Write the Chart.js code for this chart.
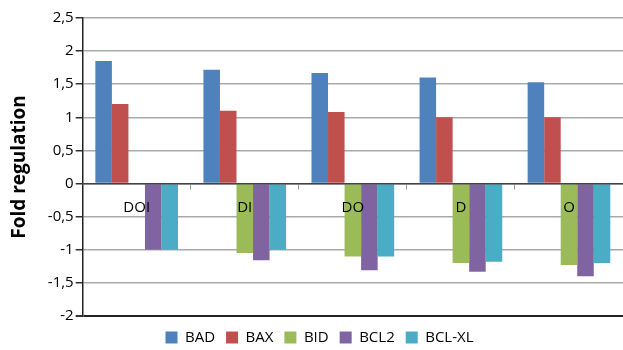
<!DOCTYPE html>
<html>
<head>
<meta charset="utf-8">
<script src="https://cdn.jsdelivr.net/npm/chart.js@4/dist/chart.umd.min.js"></script>
<style>
  html, body { margin: 0; padding: 0; background: #fff; }
  #wrap { width: 623px; height: 350px; }
</style>
</head>
<body>
<div id="wrap"><canvas id="chart"></canvas></div>
<script>
// Treatment groups along the x axis
const categories = ['DOI', 'DI', 'DO', 'D', 'O'];

// Fold regulation per gene
const badValues   = [1.85, 1.72, 1.67, 1.60, 1.53];
const baxValues   = [1.20, 1.10, 1.08, 1.00, 1.00];
const bidValues   = [0, -1.05, -1.10, -1.20, -1.23];
const bcl2Values  = [-1.00, -1.16, -1.31, -1.33, -1.40];
const bclxlValues = [-1.00, -1.00, -1.10, -1.18, -1.20];

const seriesNames = ['BAD', 'BAX', 'BID', 'BCL2', 'BCL-XL'];
const seriesColors = ['#4F81BD', '#C0504D', '#9BBB59', '#8064A2', '#4BACC6'];

const yTicks = [-2, -1.5, -1, -0.5, 0, 0.5, 1, 1.5, 2, 2.5];

const allSeries = [badValues, baxValues, bidValues, bcl2Values, bclxlValues];

const datasets = allSeries.map((vals, i) => ({
  label: seriesNames[i],
  data: vals,
  backgroundColor: seriesColors[i],
  borderWidth: 0,
  categoryPercentage: 0.765,
  barPercentage: 1.0
}));

const fmt = v => String(v).replace('.', ',');

// Legend: slightly shorter box, drawn a few pixels lower and to the right
const legendPlacement = {
  id: 'legendPlacement',
  afterInit(chart) {
    const lg = chart.legend;
    if (!lg || lg._wrapped) return;
    const fit = lg.fit;
    lg.fit = function () {
      fit.call(this);
      this.height -= 2;
    };
    lg._wrapped = true;
  },
  afterLayout(chart) {
    const lg = chart.legend;
    if (lg) {
      lg.top += 3; lg.bottom += 3;
      lg.left += 4; lg.right += 4;
    }
  }
};

new Chart(document.getElementById('chart'), {
  type: 'bar',
  data: { labels: categories, datasets },
  plugins: [legendPlacement],
  options: {
    responsive: true,
    maintainAspectRatio: false,
    animation: false,
    layout: { padding: { top: 18, right: 0, left: 8, bottom: 0 } },
    plugins: {
      tooltip: { enabled: false },
      legend: {
        position: 'bottom',
        labels: {
          boxWidth: 12,
          boxHeight: 12,
          padding: 11,
          color: '#000',
          font: { family: 'Open Sans', size: 15 }
        }
      }
    },
    scales: {
      x: {
        position: { y: 0 },
        grid: {
          drawOnChartArea: false,
          drawTicks: true,
          tickLength: 5,
          color: '#999',
          offset: true
        },
        border: { display: true, color: '#444', width: 1.5, z: 1 },
        ticks: {
          z: 2,
          color: '#000',
          padding: 10,
          autoSkip: false,
          maxRotation: 0,
          font: { family: 'Open Sans', size: 15 }
        }
      },
      y: {
        min: -2,
        max: 2.5,
        afterBuildTicks: axis => { axis.ticks = yTicks.map(v => ({ value: v })); },
        grid: {
          color: ctx => (ctx.tick && ctx.tick.value === -2) ? '#222' : '#a9a9a9',
          lineWidth: ctx => (ctx.tick && ctx.tick.value === -2) ? 2 : 1.5,
          tickLength: 7,
          tickColor: '#333'
        },
        border: { display: true, color: '#222', width: 1.5 },
        ticks: {
          color: '#000',
          padding: 2,
          font: { family: 'Open Sans', size: 15 },
          callback: v => fmt(v)
        },
        title: {
          display: true,
          text: 'Fold regulation',
          color: '#000',
          padding: { top: 0, bottom: 15 },
          font: { family: 'Open Sans', size: 19, weight: 'bold' }
        }
      }
    }
  }
});
</script>
</body>
</html>
